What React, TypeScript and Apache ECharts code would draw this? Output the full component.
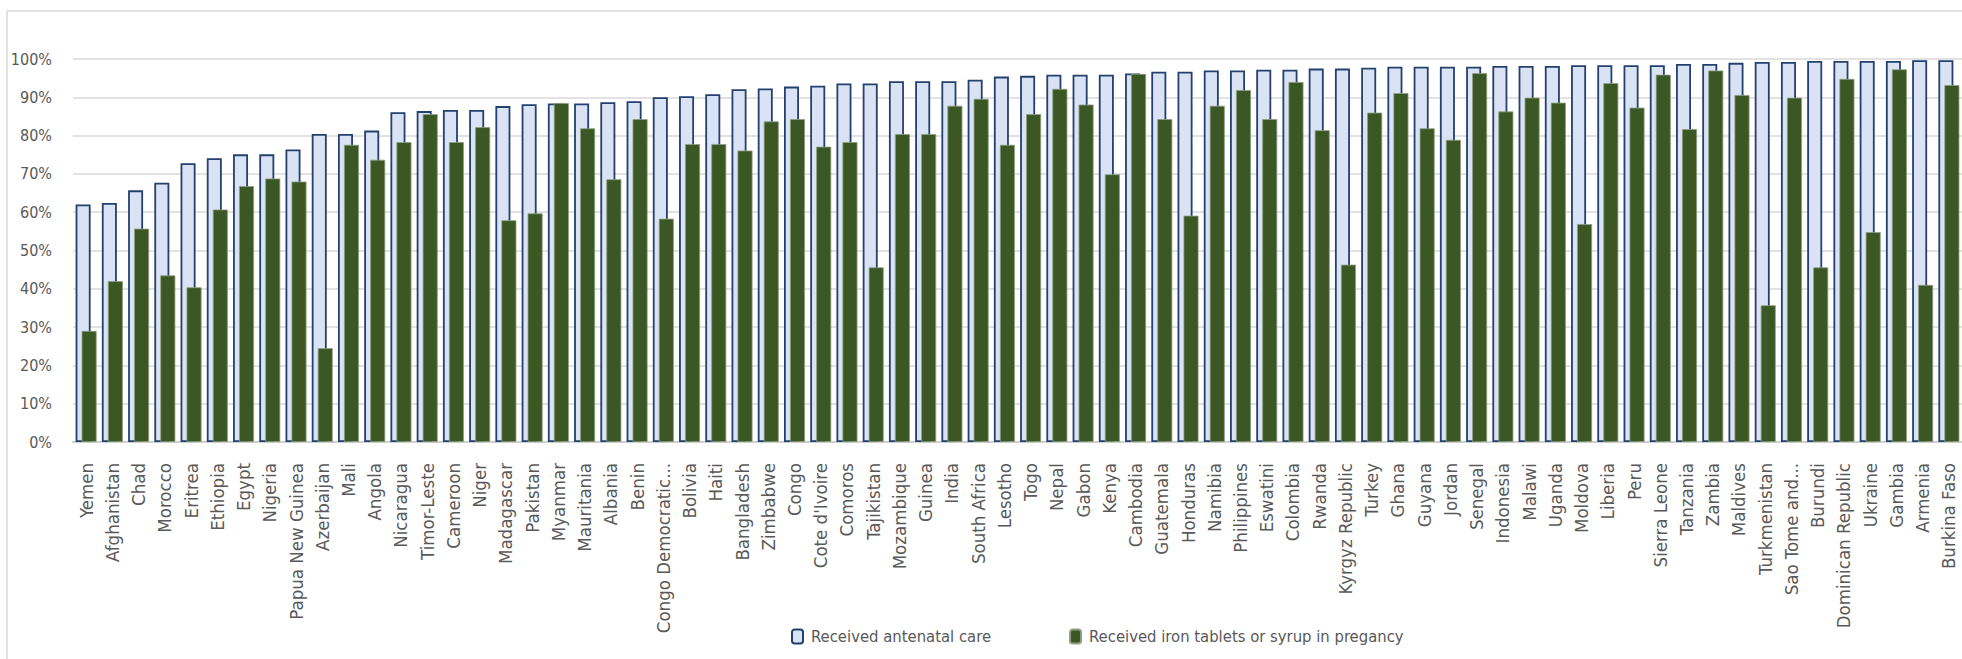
import React, { useEffect, useRef } from "react";
import * as echarts from "echarts";

const countries = [
  "Yemen", "Afghanistan", "Chad", "Morocco", "Eritrea", "Ethiopia", "Egypt", "Nigeria",
  "Papua New Guinea", "Azerbaijan", "Mali", "Angola", "Nicaragua", "Timor-Leste", "Cameroon", "Niger",
  "Madagascar", "Pakistan", "Myanmar", "Mauritania", "Albania", "Benin", "Congo Democratic...", "Bolivia",
  "Haiti", "Bangladesh", "Zimbabwe", "Congo", "Cote d'Ivoire", "Comoros", "Tajikistan", "Mozambique",
  "Guinea", "India", "South Africa", "Lesotho", "Togo", "Nepal", "Gabon", "Kenya",
  "Cambodia", "Guatemala", "Honduras", "Namibia", "Philippines", "Eswatini", "Colombia", "Rwanda",
  "Kyrgyz Republic", "Turkey", "Ghana", "Guyana", "Jordan", "Senegal", "Indonesia", "Malawi",
  "Uganda", "Moldova", "Liberia", "Peru", "Sierra Leone", "Tanzania", "Zambia", "Maldives",
  "Turkmenistan", "Sao Tome and...", "Burundi", "Dominican Republic", "Ukraine", "Gambia", "Armenia", "Burkina Faso",
];

const antenatalCare = [
  62.0, 62.4, 65.7, 67.7, 72.8, 74.1, 75.1, 75.1,
  76.4, 80.4, 80.4, 81.3, 86.1, 86.4, 86.7, 86.7,
  87.7, 88.2, 88.4, 88.4, 88.7, 89.0, 90.0, 90.3,
  90.8, 92.1, 92.3, 92.8, 93.0, 93.6, 93.6, 94.2,
  94.2, 94.2, 94.6, 95.4, 95.6, 95.9, 95.9, 95.9,
  96.2, 96.7, 96.7, 97.0, 97.0, 97.2, 97.2, 97.5,
  97.5, 97.7, 98.0, 98.0, 98.0, 98.0, 98.2, 98.2,
  98.2, 98.4, 98.4, 98.4, 98.4, 98.7, 98.7, 99.0,
  99.2, 99.2, 99.5, 99.5, 99.5, 99.5, 99.7, 99.7,
];

const ironSupplement = [
  29.0, 42.0, 55.7, 43.5, 40.4, 60.7, 66.8, 68.8,
  68.0, 24.5, 77.6, 73.7, 78.3, 85.6, 78.3, 82.2,
  57.9, 59.7, 88.5, 81.9, 68.6, 84.3, 58.3, 77.8,
  77.8, 76.1, 83.7, 84.3, 77.1, 78.3, 45.6, 80.4,
  80.4, 87.8, 89.6, 77.6, 85.6, 92.2, 88.1, 69.9,
  96.1, 84.3, 59.1, 87.8, 91.9, 84.3, 94.0, 81.4,
  46.3, 86.0, 91.1, 81.9, 78.9, 96.3, 86.3, 89.9,
  88.6, 56.9, 93.7, 87.3, 95.9, 81.7, 97.0, 90.6,
  35.7, 89.9, 45.6, 94.8, 54.8, 97.3, 41.0, 93.2,
];

const seriesNames = ["Received antenatal care", "Received iron tablets or syrup in pregancy"];

const FONT = "'DejaVu Sans Condensed', 'Liberation Sans Narrow', sans-serif";
const TEXT_COLOR = "#595959";

export default function App() {
  const ref = useRef<HTMLDivElement>(null);

  useEffect(() => {
    document.body.style.margin = "0";
    const chart = echarts.init(ref.current!, null, { renderer: "svg" });
    chart.setOption({
      animation: false,
      backgroundColor: "#ffffff",
      graphic: [
        {
          type: "rect",
          shape: { x: 7, y: 11, width: 2000, height: 700 },
          style: { fill: "none", stroke: "#d9d9d9", lineWidth: 1.5 },
          silent: true,
          z: -1,
        },
      ],
      grid: {
        left: 73,
        right: 0,
        top: 59,
        bottom: 217,
        containLabel: false,
        outerBoundsMode: "none",
      },
      legend: {
        left: 786,
        top: 623,
        itemWidth: 11,
        itemHeight: 14,
        itemGap: 78,
        textStyle: { fontFamily: FONT, fontSize: 16.5, color: TEXT_COLOR, padding: [0, 0, 0, 3] },
        data: seriesNames,
      },
      xAxis: {
        type: "category",
        data: countries,
        axisLine: { show: true, lineStyle: { color: "#d0d0d0", width: 2 } },
        axisTick: { show: false },
        axisLabel: {
          interval: 0,
          rotate: 90,
          margin: 21,
          fontFamily: FONT,
          fontSize: 18.5,
          color: TEXT_COLOR,
        },
      },
      yAxis: {
        type: "value",
        min: 0,
        max: 100,
        interval: 10,
        axisLine: { show: false },
        axisTick: { show: false },
        splitLine: { show: true, lineStyle: { color: "#d9d9d9", width: 1.5 } },
        axisLabel: {
          formatter: "{value}%",
          margin: 21,
          fontFamily: FONT,
          fontSize: 16,
          color: TEXT_COLOR,
        },
      },
      series: [
        {
          name: seriesNames[0],
          type: "bar",
          data: antenatalCare,
          barWidth: 15,
          barGap: "-60%",
          itemStyle: { color: "#DAE3F3", borderColor: "#24406F", borderWidth: 1.8 },
          z: 2,
        },
        {
          name: seriesNames[1],
          type: "bar",
          data: ironSupplement,
          barWidth: 15,
          itemStyle: { color: "#3A5724", borderColor: "#8E9E82", borderWidth: 0.8 },
          z: 3,
        },
      ],
    });
    return () => chart.dispose();
  }, []);

  return (
    <div
      ref={ref}
      style={{ position: "absolute", left: 0, top: 0, width: 1962, height: 659 }}
    />
  );
}
